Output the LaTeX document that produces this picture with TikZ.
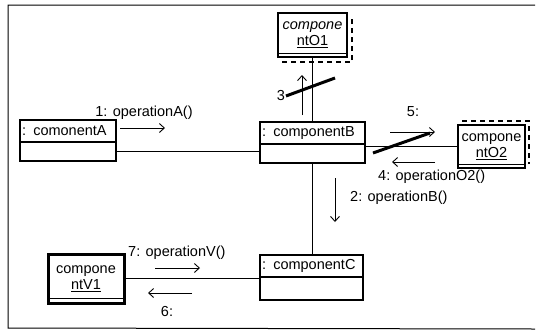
\documentclass[tikz,border=0pt]{standalone}
\usepackage{fontspec}
\setmainfont{Liberation Sans}
\usetikzlibrary{positioning,arrows.meta}
\newcommand{\umlfont}{\fontsize{14.5}{16}\selectfont}

\begin{document}
\begin{tikzpicture}[x=1pt, y=-1pt, every node/.style={font=\umlfont},
    objname/.style={draw, line width=1.1pt, anchor=north west, inner xsep=2pt, inner ysep=0pt, outer sep=0pt, minimum height=22pt, align=left},
    objbody/.style={draw, line width=1.1pt, inner sep=0pt, outer sep=0pt, minimum height=19pt},
    iface/.style={draw, line width=1.1pt, anchor=north west, inner sep=0pt, outer sep=0pt, align=center},
    active/.style={iface, line width=3pt},
    link/.style={line width=1pt},
    msg/.style={line width=0.9pt, -{Straight Barb[length=5pt,width=9pt]}},
    cut/.style={line width=3pt},
    shade/.style={line width=1.6pt, dash pattern=on 5pt off 4pt},
    lbl/.style={inner sep=0pt}]
    \useasboundingbox (0,0) rectangle (536,333);

    % Frame
    \draw[line width=1pt] (535,5) -- (8,5) -- (8,328) -- (535,329);

    % Objects
    \node[objname, text width=92pt] (a) at (20,120) {: comonentA};
    \node[objbody, minimum width=96pt, below=0pt of a] (abody) {};
    \node[objname, text width=101pt] (b) at (260,122) {: componentB};
    \node[objbody, minimum width=105pt, below=0pt of b] (bbody) {};
    \node[objname, text width=99pt] (c) at (260,255) {: componentC};
    \node[objbody, minimum width=103pt, minimum height=23pt, below=0pt of c] (cbody) {};

    \node[iface, minimum width=69pt, minimum height=44pt] (o1) at (278,13) {\textit{compone}\\\underline{ntO1}};
    \node[iface, minimum width=67pt, minimum height=43pt] (o2) at (458,125) {compone\\\underline{ntO2}};
    \node[active, minimum width=76pt, minimum height=49pt] (v1) at (48,254) {compone\\\underline{ntV1}};

    % Bottom double lines and shadows
    \foreach \n in {o1,o2} {
        \draw[line width=0.8pt] ([yshift=3.5pt]\n.south west) -- ([yshift=3.5pt]\n.south east);
    }
    \draw[line width=0.8pt] ([yshift=5pt]v1.south west) -- ([yshift=5pt]v1.south east);
    \draw[shade] ([shift={(4,5)}]o1.south west) -| ([shift={(5,5)}]o1.north east);
    \draw[shade] ([shift={(4,-4)}]o2.north west) -| ([shift={(4,-4)}]o2.south east);

    % Links
    \draw[link] (abody.east) -- (abody.east -| b.west);
    \draw[link] (o2.west) -- (o2.west -| b.east);
    \draw[link] (o1.south) -- (o1.south |- b.north);
    \draw[link] (bbody.south) -- (bbody.south |- c.north);
    \draw[link] (v1.east) -- (v1.east -| c.west);

    % Cut marks
    \coordinate (cut3a) at (286,96);
    \coordinate (cut3b) at (335,78);
    \coordinate (cut5a) at (373,153);
    \coordinate (cut5b) at (430,133);
    \draw[cut] (cut3a) -- (cut3b);
    \draw[cut] (cut5a) -- (cut5b);

    % Messages
    \coordinate (m1s) at (120,128);  \coordinate (m1e) at (165,128);
    \coordinate (m2s) at (335,178);  \coordinate (m2e) at (335,222);
    \coordinate (m3s) at (302,115);  \coordinate (m3e) at (302,75);
    \coordinate (m4s) at (435,162);  \coordinate (m4e) at (392,162);
    \coordinate (m5s) at (390,132);  \coordinate (m5e) at (435,132);
    \coordinate (m6s) at (192,293);  \coordinate (m6e) at (148,293);
    \coordinate (m7s) at (155,268);  \coordinate (m7e) at (200,268);
    \foreach \m in {1,...,7} {
        \draw[msg] (m\m s) -- (m\m e);
    }

    % Labels
    \node[lbl] (l1) at (144,113) {1: operationA()};
    \node[lbl, anchor=west] (l2) at (350,198) {2: operationB()};
    \node[lbl] (l3) at (281,96) {3};
    \node[lbl, anchor=west] (l4) at (378,177) {4: operationO2()};
    \node[lbl] (l5) at (413,112) {5:};
    \node[lbl] (l6) at (167,312) {6:};
    \node[lbl, anchor=west] (l7) at (128,253) {7: operationV()};
\end{tikzpicture}
\end{document}
